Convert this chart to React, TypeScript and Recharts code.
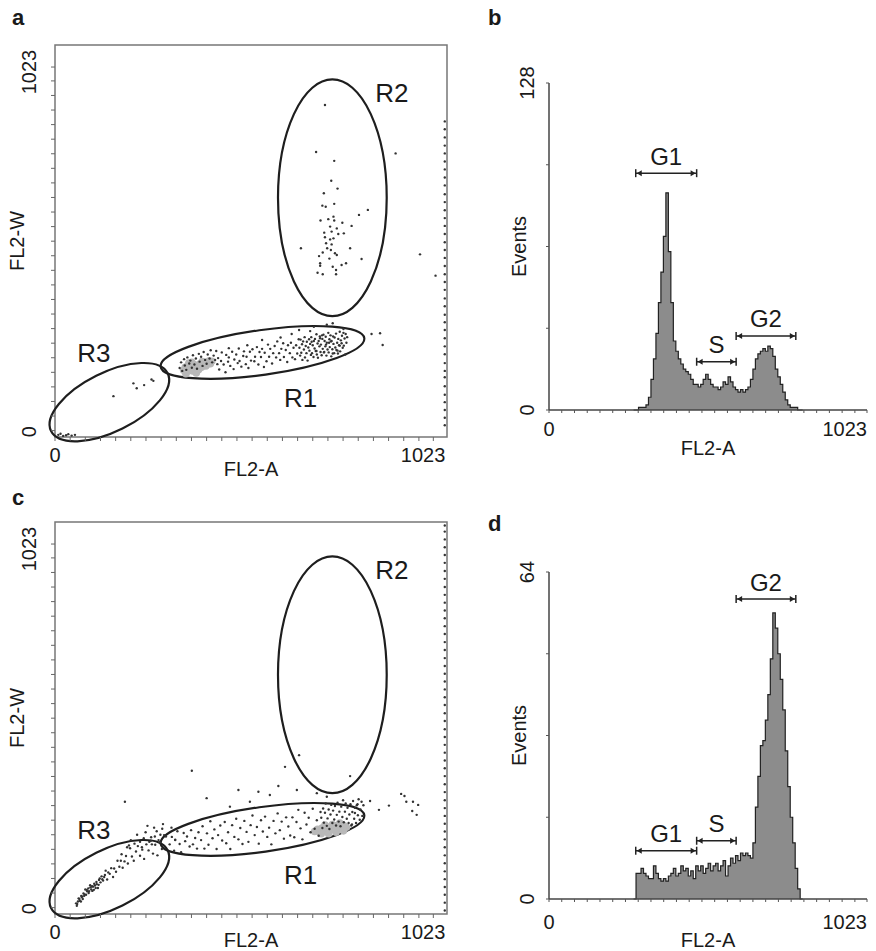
import React from 'react';
import {
  ScatterChart,
  Scatter,
  ComposedChart,
  Area,
  XAxis,
  YAxis,
  ReferenceArea,
  ReferenceDot,
} from 'recharts';

const FONT = '"Liberation Sans", Arial, Helvetica, sans-serif';

// ---------- axis ticks ----------
const CHANNEL_TICKS = [0, 41, 82, 123, 164, 205, 246, 287, 328, 369, 410, 451, 492, 533, 574, 615, 656, 697, 738, 779, 820, 861, 902, 943, 984, 1023];
const LABELED_TICKS = [0, 1023];
const HIST_B_TICKS = [0, 32, 64, 96, 128];
const HIST_D_TICKS = [0, 16, 32, 48, 64];

// ---------- panel a scatter (FL2-A vs FL2-W) ----------
const A_R1_DARK: [number, number][] = [
  [337,176],[341,192],[344,168],[349,201],[351,183],[355,171],[358,206],[363,189],[366,197],[370,177],[373,212],[377,186],[381,203],[384,174],[389,216],[391,194],[395,208],[399,182],[402,221],[406,199],[410,188],[413,214],[418,203],[421,226],[425,192],[429,211],[433,199],[436,224],[439,187],
  [441,204],[444,172],[449,196],[451,220],[456,186],[461,164],[463,213],[468,194],[470,206],[474,182],[479,222],[483,173],[485,200],[490,214],[494,190],[497,231],[499,196],[504,180],[509,210],[511,223],[516,187],[518,208],[523,176],[527,222],[530,197],[534,229],[539,195],[541,208],[546,235],[550,186],[553,221],[557,207],[560,230],[565,179],[567,219],[572,195],[576,242],[579,208],[582,230],[587,189],[590,218],[594,238],[598,206],[601,251],[606,218],[609,199],[612,230],[617,246],[619,207],[624,227],[628,193],[630,240],[635,218],[638,247],[642,206],[645,233],[649,201],[652,240],[655,217],[659,257],
  [661,233],[663,211],[664,256],[666,219],[668,243],[669,199],[671,251],[673,228],[675,263],[676,206],[678,238],[680,218],[681,250],[683,197],[685,234],[687,257],[688,225],[690,244],[692,213],[693,263],[695,218],[697,240],[699,207],[700,252],[702,231],[703,258],[705,224],[707,271],[708,214],[710,245],[711,205],[713,252],[715,237],[716,265],[718,221],[719,242],[721,212],[723,258],[724,230],[726,270],[727,220],[729,252],[731,237],[732,264],[734,211],[735,247],[737,228],[739,275],[740,220],[742,257],[743,235],[745,268],[747,209],[748,252],[750,229],[752,265],[753,244],[755,218],[756,262],[758,234],[760,273],[761,227],[763,247],[765,217],[766,258],[768,240],[770,278],[771,223],[773,254],[775,246],[776,267],[778,233],[780,275],[781,239],[783,259],[785,214],[786,272],[788,247],[790,263],[764,225],[741,247],[722,268],[707,224],[694,250],[751,217],[733,242],[717,260],[770,239],[746,251],[728,221],
  [660,283],[700,292],[735,298],[690,280],[610,262],[560,255],[780,286],[640,272],[520,240],[470,232],
];
const A_R1_BLOB: [number, number][] = [
  [348,170],[352,178],[356,165],[360,184],[364,172],[368,180],[372,168],[376,186],[380,175],[384,182],[388,171],[392,188],[396,178],[400,185],[404,192],[408,182],[412,190],[416,196],[420,188],[424,195],[354,160],[362,190],[370,192],[382,162],[398,194],
];
const A_R2: [number, number][] = [
  [730,916],[706,784],[755,759],[921,780],[747,703],[764,681],[727,668],[755,638],[723,633],[732,630],[846,621],[822,607],[718,591],[739,595],[753,602],[755,591],[777,585],[802,576],[744,574],[762,569],[728,557],[748,560],[781,555],[766,553],[730,544],[744,538],[753,541],[733,527],[748,524],[665,513],[736,513],[798,513],[724,501],[757,499],[746,508],[714,491],[762,494],[742,484],[829,483],[717,471],[787,471],[775,466],[751,461],[717,464],[760,452],[710,444],[724,440],[760,440],[987,496],[1029,436],
];
const A_OTHER: [number, number][] = [
  [158,97],[212,133],[221,119],[241,128],[261,144],[266,140],
  [9,-12],[22,-15],[36,-10],[45,-14],[54,-12],[30,-13],[15,-9],
  [856,272],[879,274],[886,241],[751,302],
];
const A_EDGE: [number, number][] = [
  [1054,15],[1054,36],[1054,58],[1054,80],[1054,101],[1054,125],[1054,150],[1054,168],[1054,190],[1054,215],[1054,237],[1054,260],[1054,283],[1054,305],[1054,326],[1054,350],[1054,372],[1054,396],[1054,418],[1054,440],[1054,463],[1054,486],[1054,508],[1054,530],[1054,553],[1054,576],[1054,598],[1054,620],[1054,643],[1054,665],[1054,690],[1054,712],[1054,735],[1054,757],[1054,780],[1054,802],[1054,825],[1054,848],[1054,870],
];

// ---------- panel c scatter ----------
const C_R3: [number, number][] = [
  [57,12],[59,5],[62,17],[64,26],[67,19],[70,17],[71,33],[74,31],[77,40],[79,33],[82,51],[84,36],[87,46],[90,54],[92,46],[95,63],[98,51],[101,47],[103,59],[106,67],[110,55],[113,66],[116,55],[119,78],[123,71],[126,88],[130,76],[133,86],[137,104],[141,79],[144,99],[148,95],[152,111],[157,86],[160,110],[165,101],[169,132],[174,115],[178,132],[183,112],[188,130],[192,145],[197,124],[203,167],[208,144],[213,132],[219,158],[224,173],[230,146],[236,163],[241,137],[247,178],[253,161],[259,188],[265,152],[271,177],[277,147],[283,184],[289,165],[295,204],
  [60,10],[66,24],[72,30],[75,24],[80,37],[86,50],[91,41],[96,57],[100,60],[105,50],[108,62],[112,72],[118,64],[121,82],[128,80],[135,92],
  [200,175],[240,195],[270,200],[205,190],[222,205],[245,212],[260,198],[275,215],[285,205],[230,185],[195,170],[255,185],[268,225],[290,222],[250,230],[300,200],[315,225],[325,190],[292,235],[310,178],[180,150],[215,180],[235,170],[262,178],[280,190],
];
const C_R1_DARK: [number, number][] = [
  [316,199],[322,160],[325,191],[331,215],[337,179],[341,156],[348,210],[352,187],[357,200],[364,172],[368,218],[373,178],[379,196],[384,166],[388,212],[395,190],[399,229],[404,166],[411,209],[415,177],[420,243],[426,195],[431,220],[437,165],[441,204],[447,231],[452,189],[459,241],[463,181],[468,212],[474,165],[479,232],[485,199],[490,250],[496,192],[501,224],[507,179],[512,244],[518,213],[523,185],[529,232],[534,259],[540,204],[546,227],[551,180],[557,246],[562,214],[568,256],[574,199],[579,225],[585,178],[591,244],[596,209],[602,265],[608,218],[613,242],[619,194],[625,254],[631,228],[636,203],[642,254],[647,198],[653,241],[658,275],[664,223],[669,192],[675,267],[680,234],[686,253],[691,212],[697,278],[702,222],[708,246],[713,202],[718,269],
  [720,253],[723,224],[725,279],[727,239],[730,267],[732,293],[735,230],[737,251],[740,276],[742,221],[745,262],[747,289],[750,238],[752,273],[755,248],[757,286],[760,231],[762,261],[764,295],[767,242],[769,270],[772,229],[774,284],[777,255],[779,302],[781,240],[784,270],[786,293],[789,250],[791,281],[794,238],[796,262],[799,291],[801,231],[804,269],[806,300],[809,250],[811,281],[814,238],[816,288],[819,260],[821,305],[824,247],[826,276],[829,298],[831,258],[834,288],[803,234],[811,266],[818,291],
];
const C_OTHER: [number, number][] = [
  [189,298],[370,385],[622,396],[798,370],[604,342],[496,331],[550,326],[581,317],[654,331],[708,322],[735,312],[410,308],[473,284],[527,298],[660,429],
  [852,300],[876,275],[903,287],[936,320],[950,298],[968,298],[966,272],[945,314],[982,289],[978,261],
];
const C_R1_BLOB: [number, number][] = [
  [702,214],[710,220],[716,212],[722,224],[728,216],[734,226],[740,218],[746,228],[752,220],[758,230],[764,222],[770,232],[776,224],[782,230],[788,226],[720,208],[740,208],[760,212],[780,216],[750,234],[730,232],[770,238],
];
const C_EDGE: [number, number][] = [
  [1054,-8],[1054,14],[1054,36],[1054,58],[1054,80],[1054,102],[1054,125],[1054,147],[1054,170],[1054,192],[1054,214],[1054,236],[1054,258],[1054,280],[1054,302],[1054,325],[1054,347],[1054,370],[1054,392],[1054,414],[1054,436],[1054,458],[1054,480],[1054,502],[1054,525],[1054,547],[1054,570],[1054,592],[1054,614],[1054,636],[1054,658],[1054,680],[1054,702],[1054,725],[1054,747],[1054,770],[1054,792],[1054,814],[1054,836],[1054,858],[1054,880],[1054,902],[1054,925],[1054,947],[1054,970],[1054,992],[1054,1014],[1054,1036],[1054,1058],[1054,1075],
];

// ---------- gates (centre x, centre y, semi-axis along x, semi-axis along y, rotation deg) ----------
const GATE_NAMES = ['R1', 'R2', 'R3'];
const GATE_CX = [561, 750, 147];
const GATE_CY = [220, 655, 80];
const GATE_AX = [278, 147, 176];
const GATE_BY = [63, 333, 83];
const GATE_ROT = [-8, 0, -26.4];
const GATE_LABEL_X = [664, 911, 105];
const GATE_LABEL_Y = [93, 949, 219];

// ---------- histograms ----------
const CHANNELS = [272,280,288,296,304,312,320,328,336,344,352,360,368,376,384,392,400,408,416,424,432,440,448,456,464,472,480,488,496,504,512,520,528,536,544,552,560,568,576,584,592,600,608,616,624,632,640,648,656,664,672,680,688,696,704,712,720,728,736,744,752,760,768,776,784,792,800,808,816];
const EVENTS_B = [0,0,1,1,1,2,5,12,20,30,42,54,68,85,62,42,27,23,20,18,16,15,14,12,10,10,9,10,12,14,12,10,9,9,8,9,11,10,13,11,9,8,7,8,7,8,9,12,16,20,22,23,24,23,25,24,21,16,13,10,7,4,2,1,1,1,0,0,0];
const EVENTS_D = [0,5,5,6,5,4.5,4,4,6.5,5,4,3.5,4,3.5,4.5,5,6,4.5,5,6.5,5.5,6,4.5,5.5,4,6.5,5.5,6.5,5,6,7,5.5,6.5,7,5.5,6.5,7.5,4.5,6.5,8,7,8.5,7.5,9,8.5,9,8.5,8,11,18,24,30,31,35,40,47,56,53,48,43,37,29,22,16,11,6,2,0,0];

const PHASES = ['G1', 'S', 'G2'];
const PHASE_FROM = [279, 475, 602];
const PHASE_TO = [475, 602, 794];
const PHASE_Y_B = [92.7, 18.9, 29];
const PHASE_Y_D = [9.45, 11.4, 58.7];

const toPts = (arr: [number, number][]) => arr.map(([x, y]) => ({ x, y }));
const histData = (counts: number[]) => CHANNELS.map((ch, i) => ({ ch, n: counts[i] }));

// ---------- render helpers ----------
const darkDot = (p: any) => <circle cx={p.cx} cy={p.cy} r={1.2} fill="#333" />;
const blobDot = (p: any) => <circle cx={p.cx} cy={p.cy} r={3.8} fill="#b8b8b8" />;

const txt = { fontFamily: FONT, fill: '#1a1a1a' } as const;

const ScatterXTick = (p: any) => {
  const v = p.payload.value;
  if (v === 0) return <text x={p.x} y={p.y + 19} textAnchor="middle" fontSize={20} {...txt}>0</text>;
  if (v === 1023) return <text x={p.x + 12} y={p.y + 19} textAnchor="end" fontSize={20} {...txt}>1023</text>;
  return null;
};
const ScatterYTick = (p: any) => {
  const v = p.payload.value;
  if (!LABELED_TICKS.includes(v)) return null;
  const cx = p.x - 19.5;
  const cy = p.y + (v === 1023 ? 5 : 1);
  return (
    <text x={cx} y={cy} transform={`rotate(-90 ${cx} ${cy})`} textAnchor="middle" dominantBaseline="central" fontSize={20} {...txt}>
      {v}
    </text>
  );
};
const XTitle = (props: any) => {
  const vb = props.viewBox || {};
  return (
    <text x={vb.x + vb.width / 2} y={vb.y + props.dy} textAnchor="middle" fontSize={20} {...txt}>
      {props.text}
    </text>
  );
};
const YTitle = (props: any) => {
  const vb = props.viewBox || {};
  const cx = vb.x + props.cxOff;
  const cy = vb.y + vb.height / 2;
  return (
    <text x={cx} y={cy} transform={`rotate(-90 ${cx} ${cy})`} textAnchor="middle" dominantBaseline="central" fontSize={20} {...txt}>
      {props.text}
    </text>
  );
};

const ellipseShape = (rot: number) => (p: any) => {
  const cx = p.x + p.width / 2;
  const cy = p.y + p.height / 2;
  return (
    <ellipse cx={cx} cy={cy} rx={Math.abs(p.width) / 2} ry={Math.abs(p.height) / 2}
      transform={`rotate(${rot} ${cx} ${cy})`} fill="none" stroke="#1e1e1e" strokeWidth={2.2} />
  );
};
const textDot = (label: string, size: number) => (p: any) => (
  <text x={p.cx} y={p.cy} textAnchor="middle" dominantBaseline="central" fontSize={size} {...txt}>{label}</text>
);

function FlowPlot({ dark, blob, other, edge, titleDy }: any) {
  return (
    <ScatterChart width={460} height={480} margin={{ top: 45, right: 13, bottom: 0, left: 0 }}>
      <XAxis type="number" dataKey="x" domain={[0, 1060]} allowDataOverflow ticks={CHANNEL_TICKS} interval={0}
        tick={ScatterXTick} tickSize={4} tickMargin={2} tickLine={{ stroke: '#666' }} axisLine={false} height={43}
        label={<XTitle text="FL2-A" dy={titleDy} />} />
      <YAxis type="number" dataKey="y" domain={[-18, 1085]} allowDataOverflow ticks={CHANNEL_TICKS} interval={0}
        tick={ScatterYTick} tickSize={4} tickMargin={2} tickLine={{ stroke: '#666' }} axisLine={false} width={55}
        label={<YTitle text="FL2-W" cxOff={16.7} />} />
      <ReferenceArea x1={0} x2={1060} y1={-18} y2={1085} fill="none" fillOpacity={0} stroke="#777" strokeWidth={1.5} ifOverflow="visible" />
      <Scatter data={toPts(blob)} shape={blobDot} isAnimationActive={false} />
      <Scatter data={toPts(dark)} shape={darkDot} isAnimationActive={false} />
      <Scatter data={toPts(other)} shape={darkDot} isAnimationActive={false} />
      <Scatter data={toPts(edge)} shape={darkDot} isAnimationActive={false} />
      {GATE_NAMES.map((g, i) => (
        <ReferenceArea key={g} x1={GATE_CX[i] - GATE_AX[i]} x2={GATE_CX[i] + GATE_AX[i]}
          y1={GATE_CY[i] - GATE_BY[i]} y2={GATE_CY[i] + GATE_BY[i]} ifOverflow="visible"
          shape={ellipseShape(GATE_ROT[i])} />
      ))}
      {GATE_NAMES.map((g, i) => (
        <ReferenceDot key={'l' + g} x={GATE_LABEL_X[i]} y={GATE_LABEL_Y[i]} ifOverflow="visible" shape={textDot(g, 26)} />
      ))}
    </ScatterChart>
  );
}

const bracketShape = (label: string) => (p: any) => {
  const x1 = p.x;
  const x2 = p.x + p.width;
  const y = p.y + p.height / 2;
  return (
    <g>
      <line x1={x1} y1={y} x2={x2} y2={y} stroke="#222" strokeWidth={1.5} />
      <line x1={x1} y1={y - 4} x2={x1} y2={y + 4} stroke="#222" strokeWidth={1.5} />
      <line x1={x2} y1={y - 4} x2={x2} y2={y + 4} stroke="#222" strokeWidth={1.5} />
      <path d={`M${x1 + 1},${y} l5,-3 v6 z`} fill="#222" />
      <path d={`M${x2 - 1},${y} l-5,-3 v6 z`} fill="#222" />
      <text x={(x1 + x2) / 2} y={y - 17} textAnchor="middle" dominantBaseline="central" fontSize={24} {...txt}>{label}</text>
    </g>
  );
};

function Histogram({ counts, yMax, yTicks, phaseY, tickDy, titleDy }: any) {
  const HistXTick = (p: any) => {
    const v = p.payload.value;
    if (v === 0) return <text x={p.x} y={p.y + tickDy} textAnchor="middle" fontSize={20} {...txt}>0</text>;
    if (v === 1023) return <text x={p.x} y={p.y + tickDy} textAnchor="end" fontSize={20} {...txt}>1023</text>;
    return null;
  };
  const HistYTick = (p: any) => {
    const v = p.payload.value;
    if (v !== 0 && v !== yMax) return null;
    const cx = p.x - 17;
    const cy = p.y;
    return (
      <text x={cx} y={cy} transform={`rotate(-90 ${cx} ${cy})`} textAnchor="middle" dominantBaseline="central" fontSize={20} {...txt}>
        {v}
      </text>
    );
  };
  const d = yMax / 256;
  return (
    <ComposedChart width={396} height={470} data={histData(counts)} margin={{ top: 83, right: 9, bottom: 0, left: 0 }}>
      <XAxis type="number" dataKey="ch" domain={[0, 1023]} ticks={CHANNEL_TICKS} interval={0} tick={HistXTick}
        tickSize={3} tickMargin={2} tickLine={{ stroke: '#555' }} axisLine={{ stroke: '#444', strokeWidth: 1.5 }} height={60}
        label={<XTitle text="FL2-A" dy={titleDy} />} />
      <YAxis type="number" domain={[0, yMax]} ticks={yTicks} interval={0} tick={HistYTick}
        tickSize={3} tickMargin={2} tickLine={{ stroke: '#555' }} axisLine={{ stroke: '#444', strokeWidth: 1.5 }} width={69}
        label={<YTitle text="Events" cxOff={39} />} />
      <Area type="stepAfter" dataKey="n" stroke="#222" strokeWidth={1.2} fill="#8c8c8c" fillOpacity={1} isAnimationActive={false} dot={false} activeDot={false} />
      {PHASES.map((ph, i) => (
        <ReferenceArea key={ph} x1={PHASE_FROM[i]} x2={PHASE_TO[i]} y1={phaseY[i] - d} y2={phaseY[i] + d}
          ifOverflow="visible" shape={bracketShape(ph)} />
      ))}
    </ComposedChart>
  );
}

export default function App() {
  const abs = (left: number, top: number) => ({ position: 'absolute' as const, left, top });
  return (
    <div style={{ position: 'absolute', left: 0, top: 0, width: 876, height: 951, background: '#fff', overflow: 'hidden' }}>
      <div style={abs(0, 0)}>
        <FlowPlot dark={A_R1_DARK} blob={A_R1_BLOB} other={[...A_R2, ...A_OTHER]} edge={A_EDGE} titleDy={38.5} />
      </div>
      <div style={abs(480, 0)}>
        <Histogram counts={EVENTS_B} yMax={128} yTicks={HIST_B_TICKS} phaseY={PHASE_Y_B} tickDy={21} titleDy={45} />
      </div>
      <div style={abs(0, 477)}>
        <FlowPlot dark={[...C_R1_DARK, ...C_R3]} blob={C_R1_BLOB} other={C_OTHER} edge={C_EDGE} titleDy={33} />
      </div>
      <div style={abs(480, 489)}>
        <Histogram counts={EVENTS_D} yMax={64} yTicks={HIST_D_TICKS} phaseY={PHASE_Y_D} tickDy={25} titleDy={48} />
      </div>
      <svg width={876} height={951} style={{ position: 'absolute', left: 0, top: 0, pointerEvents: 'none' }}>
        <text x={12} y={25} fontSize={22} fontWeight="bold" {...txt}>a</text>
        <text x={488} y={25} fontSize={22} fontWeight="bold" {...txt}>b</text>
        <text x={12} y={505} fontSize={22} fontWeight="bold" {...txt}>c</text>
        <text x={488} y={531} fontSize={22} fontWeight="bold" {...txt}>d</text>
      </svg>
    </div>
  );
}
